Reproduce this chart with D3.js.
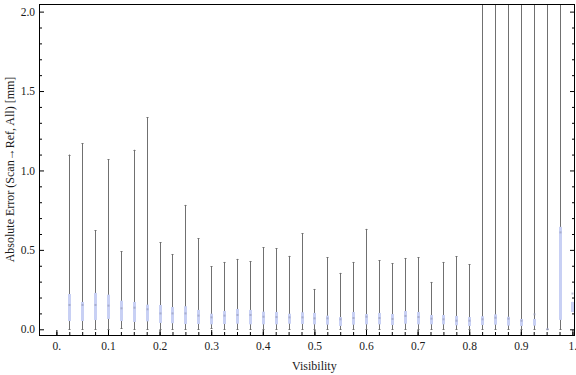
<!DOCTYPE html>
<html>
<head>
<meta charset="utf-8">
<script src="https://cdn.jsdelivr.net/npm/d3@7"></script>
<style>
    body { margin: 0; background: #fff; }
    svg { display: block; }
    text { font-family: "Liberation Serif", "Times New Roman", serif; fill: #1a1a1a; }
    .whisker { stroke: #707070; stroke-width: 1; }
    .box { fill: #c8d0f4; }
    .marker { fill: #9a9fbd; }
</style>
</head>
<body>
<svg id="chart" width="576" height="375"></svg>
<script>
var visibility = [0.025, 0.05, 0.075, 0.1, 0.125, 0.15, 0.175, 0.2, 0.225, 0.25,
    0.275, 0.3, 0.325, 0.35, 0.375, 0.4, 0.425, 0.45, 0.475, 0.5,
    0.525, 0.55, 0.575, 0.6, 0.625, 0.65, 0.675, 0.7, 0.725, 0.75,
    0.775, 0.8, 0.825, 0.85, 0.875, 0.9, 0.925, 0.95, 0.975, 1.0]
var whiskerMax = [1.10, 1.17, 0.625, 1.07, 0.49, 1.13, 1.335, 0.548, 0.474, 0.783,
    0.573, 0.398, 0.424, 0.443, 0.43, 0.518, 0.51, 0.462, 0.606, 0.254,
    0.455, 0.355, 0.424, 0.632, 0.436, 0.415, 0.449, 0.455, 0.298, 0.424,
    0.46, 0.411, 2.6, 2.9, 2.4, 3.2, 2.7, 3.5, 4.1, 0.172]
var upperQuartile = [0.222, 0.172, 0.229, 0.218, 0.18, 0.172, 0.155, 0.153, 0.14, 0.145,
    0.122, 0.098, 0.115, 0.128, 0.122, 0.111, 0.109, 0.098, 0.107, 0.103,
    0.086, 0.077, 0.109, 0.096, 0.103, 0.096, 0.115, 0.109, 0.09, 0.09,
    0.084, 0.077, 0.082, 0.094, 0.079, 0.065, 0.065, 0.004, 0.645, 0.172]
var meanValue = [0.153, 0.153, 0.153, 0.149, 0.132, 0.136, 0.126, 0.10, 0.10, 0.10,
    0.086, 0.075, 0.086, 0.09, 0.09, 0.079, 0.077, 0.075, 0.075, 0.069,
    0.069, 0.063, 0.071, 0.079, 0.071, 0.065, 0.084, 0.077, 0.067, 0.063,
    0.054, 0.054, 0.063, 0.073, 0.067, 0.054, 0.094, 0.0, 0.61, 0.225]
var lowerQuartile = [0.052, 0.052, 0.058, 0.065, 0.052, 0.046, 0.05, 0.04, 0.038, 0.033,
    0.033, 0.031, 0.033, 0.035, 0.031, 0.031, 0.031, 0.035, 0.033, 0.031,
    0.029, 0.021, 0.029, 0.031, 0.031, 0.027, 0.035, 0.031, 0.031, 0.031,
    0.025, 0.021, 0.027, 0.029, 0.023, 0.021, 0.023, 0.0, 0.059, 0.109]
var whiskerMin = [0, 0, 0, 0, 0.006, 0, 0, 0, 0, 0,
    0, 0.006, 0, 0, 0, 0, 0, 0, 0, 0,
    0, 0, 0, 0, 0, 0, 0, 0, 0, 0,
    0, 0, 0, 0, 0, 0, 0, 0, 0, 0.109]
var xMajorTicks = [0, 0.1, 0.2, 0.3, 0.4, 0.5, 0.6, 0.7, 0.8, 0.9, 1.0]
var xMajorLabels = ['0.', '0.1', '0.2', '0.3', '0.4', '0.5', '0.6', '0.7', '0.8', '0.9', '1.']
var yMajorTicks = [0, 0.5, 1.0, 1.5, 2.0]
var yMajorLabels = ['0.0', '0.5', '1.0', '1.5', '2.0']
var yMinorTicks = [0.1, 0.2, 0.3, 0.4, 0.6, 0.7, 0.8, 0.9, 1.1, 1.2, 1.3, 1.4, 1.6, 1.7, 1.8, 1.9]

var pLeft = 39, pRight = 575, pTop = 4, pBottom = 335
var boxW = 3

var svg = d3.select('#chart')
var x = d3.scaleLinear().domain([-0.0337, 1.005]).range([pLeft, pRight])
var y = d3.scaleLinear().domain([-0.036, 2.048]).range([pBottom, pTop])

var rows = visibility.map(function(v, i) {
    return { v: v, lo: whiskerMin[i], q1: lowerQuartile[i], mean: meanValue[i], q3: upperQuartile[i], hi: whiskerMax[i] }
})

svg.append('defs').append('clipPath')
    .attr('id', 'plotclip')
    .append('rect')
    .attr('x', pLeft).attr('y', pTop)
    .attr('width', pRight - pLeft).attr('height', pBottom - pTop)

var plot = svg.append('g').attr('clip-path', 'url(#plotclip)')

plot.selectAll('line.whisker')
    .data(rows)
    .enter()
        .append('line')
        .attr('class', 'whisker')
        .attr('x1', function(d) { return Math.round(x(d.v)) + 0.5; })
        .attr('x2', function(d) { return Math.round(x(d.v)) + 0.5; })
        .attr('y1', function(d) { return y(d.lo); })
        .attr('y2', function(d) { return y(d.hi); })

// little caps at whisker ends
var caps = []
rows.forEach(function(d) {
    if (d.hi > d.q3) { caps.push({ v: d.v, val: d.hi }); caps.push({ v: d.v, val: d.lo }); }
})
plot.selectAll('line.cap')
    .data(caps)
    .enter()
        .append('line')
        .attr('class', 'whisker')
        .attr('x1', function(d) { return Math.round(x(d.v)) - 0.5; })
        .attr('x2', function(d) { return Math.round(x(d.v)) + 1.5; })
        .attr('y1', function(d) { return Math.round(y(d.val)) + 0.5; })
        .attr('y2', function(d) { return Math.round(y(d.val)) + 0.5; })

plot.selectAll('rect.box')
    .data(rows)
    .enter()
        .append('rect')
        .attr('class', 'box')
        .attr('x', function(d) { return Math.round(x(d.v)) + 0.5 - boxW / 2; })
        .attr('width', boxW)
        .attr('y', function(d) { return y(d.q3); })
        .attr('height', function(d) { return Math.max(0, y(d.q1) - y(d.q3)); })

plot.selectAll('rect.marker')
    .data(rows)
    .enter()
        .append('rect')
        .attr('class', 'marker')
        .attr('x', function(d) { return Math.round(x(d.v)) - 0.5; })
        .attr('width', 2)
        .attr('y', function(d) { return y(d.mean) - 1; })
        .attr('height', 2)
        .attr('opacity', 0.7)

// axes
function styleAxis(g) {
    g.attr('font-family', null)
    g.select('.domain').remove()
    g.selectAll('.tick line').attr('stroke', '#000')
    g.selectAll('.tick text')
        .style('font-family', '"Liberation Serif", "Times New Roman", serif')
        .style('font-size', '11.5px')
        .attr('fill', '#1a1a1a')
}

var xMinor = visibility.slice()
xMinor.unshift(0)
svg.append('g')
    .attr('transform', 'translate(0,' + pBottom + ')')
    .call(d3.axisBottom(x).tickValues(xMinor).tickSizeInner(-3).tickSizeOuter(0).tickFormat(''))
    .call(styleAxis)
svg.append('g')
    .attr('transform', 'translate(0,' + pBottom + ')')
    .call(d3.axisBottom(x).tickValues(xMajorTicks).tickSizeInner(-5).tickSizeOuter(0).tickPadding(7)
        .tickFormat(function(d, i) { return xMajorLabels[i]; }))
    .call(styleAxis)

svg.append('g')
    .attr('transform', 'translate(' + pLeft + ',0)')
    .call(d3.axisLeft(y).tickValues(yMinorTicks).tickSizeInner(-3).tickSizeOuter(0).tickFormat(''))
    .call(styleAxis)
svg.append('g')
    .attr('transform', 'translate(' + pLeft + ',0)')
    .call(d3.axisLeft(y).tickValues(yMajorTicks).tickSizeInner(-5).tickSizeOuter(0).tickPadding(4)
        .tickFormat(function(d, i) { return yMajorLabels[i]; }))
    .call(styleAxis)

svg.append('g')
    .attr('transform', 'translate(' + pRight + ',0)')
    .call(d3.axisRight(y).tickValues(yMinorTicks).tickSizeInner(-3).tickSizeOuter(0).tickFormat(''))
    .call(styleAxis)
svg.append('g')
    .attr('transform', 'translate(' + pRight + ',0)')
    .call(d3.axisRight(y).tickValues(yMajorTicks).tickSizeInner(-5).tickSizeOuter(0).tickFormat(''))
    .call(styleAxis)

svg.append('rect')
    .attr('x', pLeft + 0.5).attr('y', pTop + 0.5)
    .attr('width', pRight - pLeft - 1).attr('height', pBottom - pTop)
    .attr('fill', 'none')
    .attr('stroke', '#000')
    .attr('stroke-width', 1)

svg.append('text')
    .attr('x', (x(0) + x(1)) / 2)
    .attr('y', 370)
    .attr('text-anchor', 'middle')
    .style('font-size', '12px')
    .text('Visibility')

svg.append('text')
    .attr('transform', 'translate(14,' + ((pTop + pBottom) / 2) + ') rotate(-90)')
    .attr('text-anchor', 'middle')
    .style('font-size', '12px')
    .text('Absolute Error (Scan\u2192Ref, All) [mm]')
</script>
</body>
</html>
